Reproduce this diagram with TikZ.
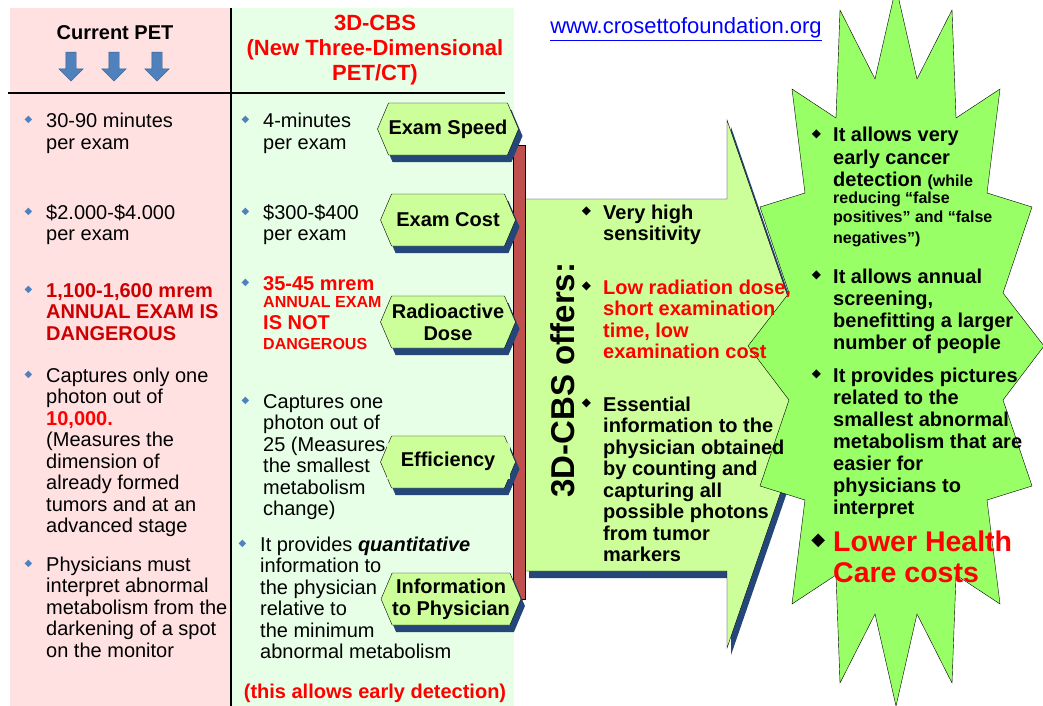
\documentclass[tikz,border=0pt]{standalone}
\usepackage{fontspec}
\setmainfont{Liberation Sans}
\newfontfamily\symb{DejaVu Sans}
\usepackage{xcolor}
\usetikzlibrary{positioning,shapes.symbols,shapes.arrows,shadows}

\definecolor{petpink}{RGB}{255,225,225}
\definecolor{cbsgreen}{RGB}{230,255,230}
\definecolor{hexgreen}{RGB}{204,255,153}
\definecolor{stargreen}{RGB}{153,255,102}
\definecolor{shadowblue}{RGB}{36,70,120}
\definecolor{bulletblue}{RGB}{79,129,189}
\definecolor{arrowedge}{RGB}{56,93,138}
\definecolor{barred}{RGB}{192,80,77}
\definecolor{darkred}{RGB}{204,0,0}
\definecolor{linkblue}{RGB}{0,0,255}

\newcommand{\bluebul}{\llap{\raisebox{5pt}{\symb\fontsize{10}{10}\selectfont\color{bulletblue}◆}\hspace{14pt}}}
\newcommand{\blackbul}{\llap{\raisebox{5pt}{\symb\fontsize{12}{12}\selectfont\color{black}◆}\hspace{12pt}}}
\newcommand{\bigbul}{\llap{\raisebox{6pt}{\symb\fontsize{18}{18}\selectfont\color{black}◆}\hspace{8pt}}}
\newcommand{\smallfont}{\fontsize{16}{18}\selectfont}
% lines of a text block, baseline at the first line
\newcommand{\lines}[1]{\begin{tabular}[t]{@{}l@{}}#1\end{tabular}}
\newcommand{\clines}[1]{\begin{tabular}[t]{@{}c@{}}#1\end{tabular}}

\begin{document}
\begin{tikzpicture}[
    x = 1pt, y = -1pt, % pixel grid, y down
    every node/.style = {inner sep=0pt},
    hexbox/.style = {signal, signal to=east and west, signal pointer angle=134,
        draw=black, fill=hexgreen, minimum width=135pt, minimum height=52pt,
        align=center, font=\fontsize{20}{22}\selectfont\bfseries,
        drop shadow={shadow xshift=4pt, shadow yshift=-7pt, fill=shadowblue, opacity=1}},
    body/.style = {anchor=base west, font=\fontsize{20}{21.5}\selectfont},
    boldbody/.style = {body, font=\fontsize{20}{21.5}\selectfont\bfseries},
    starbody/.style = {body, font=\fontsize{20}{22}\selectfont\bfseries},
    downarrow/.style = {single arrow, shape border rotate=270, fill=bulletblue,
        draw=arrowedge, minimum height=29pt, minimum width=24pt,
        single arrow head extend=7pt, inner sep=5pt}
]
\useasboundingbox (0,0) rectangle (1043,706);
\clip (0,0) rectangle (1043,706);

% the two columns
\fill[petpink] (10,8) rectangle (231,706);
\fill[cbsgreen] (231,8) rectangle (514,706);
\draw[line width=1.5pt] (231,8) -- (231,706);
\draw[line width=1.5pt] (8,93) -- (505,93);

% headers
\node[anchor=base, font=\fontsize{20}{22}\selectfont\bfseries] (cur) at (115,40) {Current PET};
\node[downarrow] (d1) at (71,64) {};
\node[downarrow] (d2) at (114,64) {};
\node[downarrow] (d3) at (157,64) {};
\node[anchor=base, text=red, font=\fontsize{22}{25}\selectfont\bfseries] (cbs) at (375,31)
    {\clines{3D-CBS\\(New Three-Dimensional\\PET/CT)}};
\node[anchor=base, text=linkblue, font=\fontsize{22}{24}\selectfont] (url) at (686,34)
    {\underline{www.crosettofoundation.org}};

% big arrow, bar and star
\draw[fill=hexgreen, drop shadow={shadow xshift=4pt, shadow yshift=-7pt, fill=shadowblue, opacity=1}]
    (525,199) -- (727,199) -- (727,120) -- (818,384) -- (727,648) -- (727,571) -- (525,571) -- cycle;
\draw[fill=barred] (513,145) rectangle (525,599);
\draw[fill=stargreen]
    (896,-13) -- (917,79) -- (952,10) -- (956,118) -- (1000,89) -- (987,193)
    -- (1032,207) -- (1003,293) -- (1044,346) -- (1003,400) -- (1032,486) -- (987,500)
    -- (1000,604) -- (956,575) -- (952,683) -- (917,614) -- (896,706) -- (875,614)
    -- (840,683) -- (836,575) -- (792,604) -- (805,500) -- (760,486) -- (789,400)
    -- (748,346) -- (789,293) -- (760,207) -- (805,193) -- (792,89) -- (836,118)
    -- (840,10) -- (875,79) -- cycle;

% current PET column
\node[body] (l1) at (46,128) {\lines{\bluebul 30-90 minutes\\per exam}};
\node[body] (l2) at (46,219) {\lines{\bluebul \$2.000-\$4.000\\per exam}};
\node[boldbody, text=darkred] (l3) at (46,297) {\lines{\bluebul 1,100-1,600 mrem\\ANNUAL EXAM IS\\DANGEROUS}};
\node[body] (l4) at (46,382) {\lines{\bluebul Captures only one\\photon out of\\\textcolor{red}{\bfseries 10,000.}\\(Measures the\\dimension of\\already formed\\tumors and at an\\advanced stage}};
\node[body] (l5) at (46,571) {\lines{\bluebul Physicians must\\interpret abnormal\\metabolism from the\\darkening of a spot\\on the monitor}};

% 3D-CBS column
\node[body] (m1) at (263,128) {\lines{\bluebul 4-minutes\\per exam}};
\node[body] (m2) at (263,219) {\lines{\bluebul \$300-\$400\\per exam}};
\node[boldbody, text=red] (m3) at (263,290) {\lines{\bluebul 35-45 mrem\\[-4.5pt]{\smallfont ANNUAL EXAM}\\[0.5pt]IS NOT\\[-1.5pt]{\smallfont DANGEROUS}}};
\node[body] (m4) at (263,408) {\lines{\bluebul Captures one\\photon out of\\25 (Measures\\the smallest\\metabolism\\change)}};
\node[body] (m5) at (260,551) {\lines{\bluebul It provides \textbf{\textit{quantitative}}\\information to\\the physician\\relative to\\the minimum\\abnormal metabolism}};
\node[anchor=base, text=red, font=\fontsize{20}{22}\selectfont\bfseries] (early) at (375,698) {(this allows early detection)};

% features
\node[hexbox] (speed) at (448,129) {Exam Speed};
\node[hexbox] (cost) at (448,220) {Exam Cost};
\node[hexbox] (dose) at (448,322) {Radioactive\\Dose};
\node[hexbox] (eff) at (448,462) {};
\node[fill=hexgreen, minimum width=123pt, minimum height=36pt,
    font=\fontsize{20}{22}\selectfont\bfseries] (efftext) at (448,461) {Efficiency};
\node[hexbox, minimum width=138pt] (info) at (451,599) {Information\\to Physician};

% what 3D-CBS offers
\node[rotate=90, font=\fontsize{33}{33}\selectfont\bfseries] (offers) at (563,380) {3D-CBS offers:};
\node[boldbody] (a1) at (603,219) {\lines{\blackbul Very high\\sensitivity}};
\node[boldbody, text=red] (a2) at (603,294) {\lines{\blackbul Low radiation dose,\\short examination\\time, low\\examination cost}};
\node[boldbody] (a3) at (603,411) {\lines{\blackbul Essential\\information to the\\physician obtained\\by counting and\\capturing all\\possible photons\\from tumor\\markers}};

% benefits
\node[starbody] (s1) at (833,142) {\lines{\blackbul It allows very\\early cancer\\detection {\smallfont (while}\\[-4pt]{\smallfont reducing ``false}\\[-3pt]{\smallfont positives'' and ``false}\\[-2pt]{\smallfont negatives'')}}};
\node[starbody] (s2) at (833,283) {\lines{\blackbul It allows annual\\screening,\\benefitting a larger\\number of people}};
\node[starbody] (s3) at (833,382) {\lines{\blackbul It provides pictures\\related to the\\smallest abnormal\\metabolism that are\\easier for\\physicians to\\interpret}};
\node[body, text=red, font=\fontsize{28.5}{31}\selectfont\bfseries] (lower) at (833,551) {\lines{\bigbul Lower Health\\Care costs}};
\end{tikzpicture}
\end{document}
